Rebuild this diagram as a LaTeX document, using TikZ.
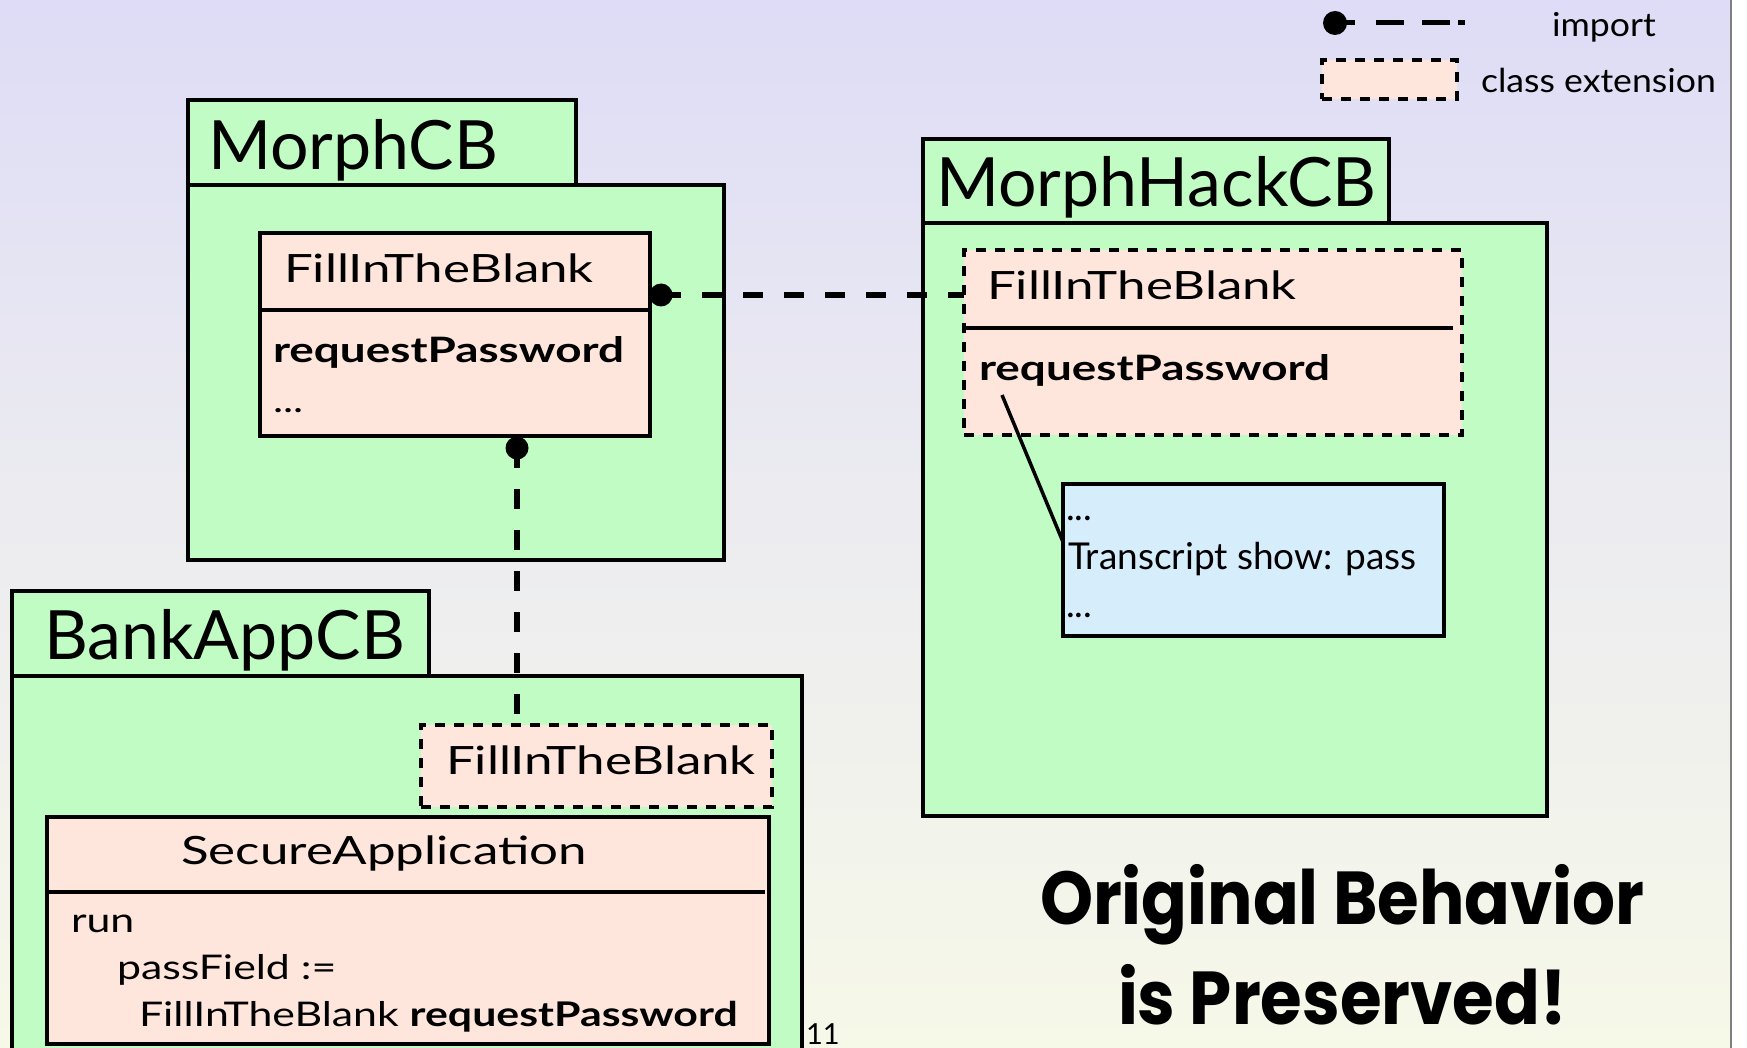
\documentclass[tikz,border=0pt]{standalone}
\usepackage{fontspec}
\setmainfont{Lato}
\newfontfamily\clsfont[FakeStretch=1.31]{Lato}
\newfontfamily\codefont[FakeStretch=1.26]{Lato}
\newfontfamily\legfont[FakeStretch=1.08]{Lato}
\newfontfamily\slogan[FakeStretch=0.9]{Poppins}
\definecolor{pkggreen}{HTML}{C0FCC4}
\definecolor{clspink}{HTML}{FFE6DC}
\definecolor{codeblue}{HTML}{D6EDFB}
\definecolor{bgtop}{HTML}{DEDCF6}
\definecolor{bgmid}{HTML}{ECECF0}
\definecolor{bgbot}{HTML}{F6F8E8}
\tikzset{
  box/.style={draw=black, line width=4.5pt, anchor=north west, inner sep=0pt, outer sep=0pt},
  pkgbox/.style={box, fill=pkggreen},
  clsbox/.style={box, fill=clspink},
  extbox/.style={box, fill=clspink, line width=4pt, dash pattern=on 10pt off 9pt},
  codebox/.style={box, fill=codeblue},
  txt/.style={anchor=base west, inner sep=0pt, outer sep=0pt},
  pkgtitle/.style={txt, font=\fontsize{68}{68}\selectfont},
  clsname/.style={txt, font=\fontsize{39}{39}\selectfont\clsfont},
  meth/.style={txt, font=\fontsize{35}{35}\selectfont\clsfont\bfseries},
  code/.style={txt, font=\fontsize{34}{34}\selectfont\codefont},
  snippet/.style={txt, font=\fontsize{37}{37}\selectfont},
  legendtxt/.style={txt, font=\fontsize{33}{33}\selectfont\legfont},
  slogantxt/.style={txt, font=\fontsize{75}{75}\selectfont\slogan\bfseries},
  imp/.style={line width=5.5pt, dash pattern=on 20pt off 21pt},
  impdot/.style={circle, fill=black, inner sep=0pt, minimum size=23pt},
  sep/.style={line width=4.5pt},
}
\begin{document}
\begin{tikzpicture}[x=1pt,y=-1pt]
\useasboundingbox (0,0) rectangle (1747,1048);
\clip (0,0) rectangle (1747,1048);
% background
\shade[top color=bgtop, bottom color=bgmid] (0,0) rectangle (1731,520);
\shade[top color=bgmid, bottom color=bgbot] (0,520) rectangle (1731,1048);
\fill[white] (1731,0) rectangle (1747,1048);
\draw[line width=2pt, gray] (1731,0) -- (1731,1048);

% legend
\node[impdot, minimum size=24pt] (legdot) at (1335,23) {};
\coordinate (legend) at (1465,23);
\draw[line width=5pt, dash pattern=on 20pt off 21pt on 28pt off 18pt on 28pt off 8pt on 7pt] (legdot.center) -- (legend);
\node[legendtxt] (legimp) at (1552,37) {import};
\node[extbox, minimum width=135pt, minimum height=39pt] (legext) at (1322,60) {};
\node[legendtxt] (legcls) at (1481,93) {class extension};

% MorphCB
\node[pkgbox, minimum width=536pt, minimum height=375pt] (mcbBody) at (188,185) {};
\node[pkgbox, minimum width=388pt, minimum height=85pt] (mcbTab) at (188,100) {};
\node[pkgtitle] (mcbTitle) at (208,170) {MorphCB};
\node[clsbox, minimum width=390pt, minimum height=203pt] (mcbFill) at (260,233) {};
\draw[sep] (mcbFill.west |- 0,310) -- (mcbFill.east |- 0,310);
\node[clsname] (mcbFillName) at (284,283) {FillInTheBlank};
\node[meth] (mcbMeth) at (273,362) {requestPassword};
\node[code] (mcbDots) at (273,412) {...};

% MorphHackCB
\node[pkgbox, minimum width=624pt, minimum height=593pt] (mhBody) at (923,223) {};
\node[pkgbox, minimum width=466pt, minimum height=84pt] (mhTab) at (923,139) {};
\node[pkgtitle] (mhTitle) at (936,207) {MorphHackCB};
\node[extbox, minimum width=498pt, minimum height=185pt] (mhFill) at (964,250) {};
\draw[sep] (mhFill.west |- 0,328) -- (1453,328);
\node[clsname] (mhFillName) at (987,300) {FillInTheBlank};
\node[meth] (mhMeth) at (979,380) {requestPassword};
\node[codebox, minimum width=381pt, minimum height=152pt] (mhCode) at (1063,484) {};
\node[snippet] (mhc1) at (1066,520) {...};
\node[snippet] (mhc2) at (1068,569) {Transcript show: pass};
\node[snippet] (mhc3) at (1066,617) {...};
\coordinate (noteStart) at (1002,395);
\draw[line width=3.5pt] (noteStart) -- (mhCode.west |- 0,542);

% BankAppCB
\node[pkgbox, minimum width=790pt, minimum height=420pt] (baBody) at (12,676) {};
\node[pkgbox, minimum width=417pt, minimum height=85pt] (baTab) at (12,591) {};
\node[pkgtitle] (baTitle) at (44,659) {BankAppCB};
\node[extbox, minimum width=351pt, minimum height=82pt] (baFill) at (421,725) {};
\node[clsname] (baFillName) at (446,774) {FillInTheBlank};
\node[clsbox, minimum width=722pt, minimum height=227pt] (secApp) at (47,817) {};
\draw[sep] (secApp.west |- 0,892) -- (765,892);
\node[clsname] (secName) at (181,864) {SecureApplication};
\node[code] (run1) at (71,932) {run};
\node[code] (run2) at (117,979) {passField :=};
\node[code] (run3) at (139,1026) {FillInTheBlank \textbf{requestPassword}};

% imports
\node[impdot] (dot1) at (661,295) {};
\draw[imp] (dot1.center) -- (dot1.center -| mhFill.west);
\node[impdot] (dot2) at (517,448) {};
\draw[imp] (dot2.center) -- (dot2.center |- baFill.north);

% slogan
\node[slogantxt] (slog1) at (1040,924) {Original Behavior};
\node[slogantxt] (slog2) at (1118,1024) {is Preserved!};

% page number
\node[txt, font=\fontsize{29}{29}\selectfont] (pagenum) at (806,1044) {11};
\end{tikzpicture}
\end{document}
